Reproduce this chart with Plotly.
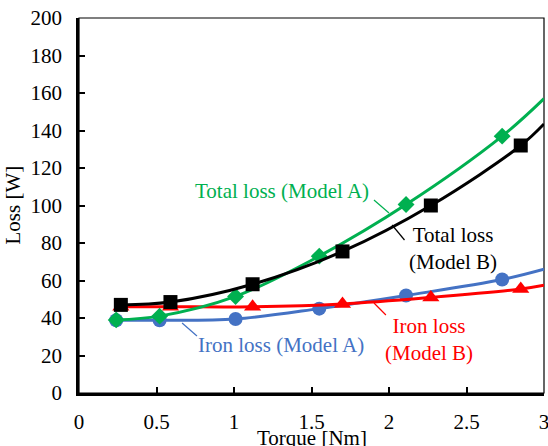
import plotly.graph_objects as go

# Data
torque_a = [0.24, 0.52, 1.01, 1.55, 2.11, 2.73]
torque_b = [0.27, 0.59, 1.12, 1.70, 2.27, 2.85]
total_a = [39, 41, 51.5, 73, 100.5, 137]
iron_a = [38.8, 38.8, 39.5, 45, 52, 60.5]
total_b = [47, 48.5, 58, 75.5, 100, 132]
iron_b = [46, 46, 46, 47.5, 51, 55.5]
# line continuation to the right edge (x = 3)
x_end = 3.0
total_a_end = 157
iron_a_end = 66
total_b_end = 143.5
iron_b_end = 57.5

GREEN = "#00B050"
BLUE = "#4472C4"
RED = "#FF0000"
BLACK = "#000000"
FONT = "Liberation Serif"

series = [
    ("Iron loss (Model A)", torque_a, iron_a, iron_a_end, BLUE, "circle", 14),
    ("Iron loss (Model B)", torque_b, iron_b, iron_b_end, RED, "triangle-up", 15),
    ("Total loss (Model A)", torque_a, total_a, total_a_end, GREEN, "diamond", 13),
    ("Total loss (Model B)", torque_b, total_b, total_b_end, BLACK, "square", 14),
]

fig = go.Figure()
for name, xs, ys, yend, col, sym, sz in series:
    fig.add_trace(go.Scatter(
        x=xs + [x_end], y=ys + [yend], mode="lines",
        line=dict(color=col, width=3, shape="spline", smoothing=1),
        showlegend=False, hoverinfo="skip", cliponaxis=True))
    fig.add_trace(go.Scatter(
        x=xs, y=ys, mode="markers", name=name,
        marker=dict(color=col, symbol=sym, size=sz, line=dict(width=0)),
        showlegend=False, cliponaxis=False))

# labels with leader lines
labels = [
    ("Total loss (Model A)", 1.31, 108, GREEN, (1.903, 102.9, 2.0, 96)),
    ("Total loss<br>(Model B)", 2.41, 77.3, BLACK, (2.02, 89.6, 2.10, 81.6)),
    ("Iron loss (Model A)", 1.30, 25.6, BLUE, (0.665, 37.3, 0.761, 30.4)),
    ("Iron loss<br>(Model B)", 2.26, 28.8, RED, (1.903, 48, 1.98, 41.6)),
]
for text, tx, ty, col, (x0, y0, x1, y1) in labels:
    fig.add_annotation(x=tx, y=ty, text=text, showarrow=False,
                       font=dict(family=FONT, size=21, color=col),
                       xref="x", yref="y")
    fig.add_shape(type="line", x0=x0, y0=y0, x1=x1, y1=y1, xref="x", yref="y",
                  line=dict(color=col, width=1.2))

# thin frame (top / right)
fig.add_shape(type="rect", xref="paper", yref="paper", x0=0, y0=0, x1=1, y1=1,
              line=dict(color=BLACK, width=1.2), layer="below")

fig.update_xaxes(range=[0, 3], dtick=0.5, tick0=0, showgrid=False, zeroline=False,
                 showline=True, linecolor=BLACK, linewidth=2.5,
                 ticks="inside", ticklen=6, tickwidth=1.5, tickcolor=BLACK,
                 tickfont=dict(family=FONT, size=21, color=BLACK),
                 ticklabelstandoff=8, ticklabeloverflow="allow", automargin=False)
fig.update_yaxes(range=[0, 200], dtick=20, tick0=0, showgrid=False, zeroline=False,
                 showline=True, linecolor=BLACK, linewidth=2.5,
                 ticks="inside", ticklen=6, tickwidth=1.5, tickcolor=BLACK,
                 tickfont=dict(family=FONT, size=21, color=BLACK),
                 ticklabelstandoff=10, automargin=False)

fig.add_annotation(text="Torque [Nm]", xref="paper", yref="paper", x=0.5, y=0,
                   yshift=-45, showarrow=False, yanchor="middle",
                   font=dict(family=FONT, size=21, color=BLACK))
fig.add_annotation(text="Loss [W]", xref="paper", yref="paper", x=0, y=0.5,
                   xshift=-67, showarrow=False, textangle=-90, xanchor="center",
                   font=dict(family=FONT, size=21, color=BLACK))

fig.update_layout(width=548, height=446,
                  margin=dict(l=79, r=4, t=18, b=53, autoexpand=False),
                  paper_bgcolor="white", plot_bgcolor="white",
                  showlegend=False)

fig.write_html("out.html", config={"displayModeBar": False},
               post_script="document.body.style.margin='0';document.body.style.overflow='hidden';")
